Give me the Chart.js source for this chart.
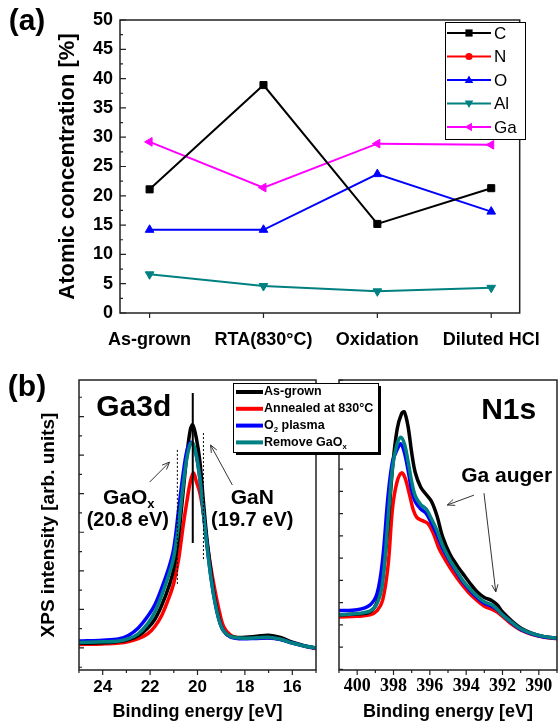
<!DOCTYPE html>
<html lang="en">
<head>
<meta charset="UTF-8">
<title>Surface composition and XPS spectra</title>
<script src="https://cdn.jsdelivr.net/npm/chart.js"></script>
<style>
  body { margin: 0; background: #fff; }
  #wrap { position: relative; width: 558px; height: 724px; }
  canvas { position: absolute; }
  #chartA { left: 0; top: 0; }
  #chartR { left: 328px; top: 360px; }
  #chartL { left: 0; top: 360px; z-index: 2; }
</style>
</head>
<body>
<div id="wrap">
  <canvas id="chartA" width="558" height="360"></canvas>
  <canvas id="chartR" width="230" height="364"></canvas>
  <canvas id="chartL" width="400" height="364"></canvas>
</div>
<script>
// ---- (a) atomic concentration [%] ----
const samples = ['As-grown', 'RTA(830°C)', 'Oxidation', 'Diluted HCl'];
const concC  = [21.1, 38.9, 15.2, 21.3];
const concN  = [null, null, null, null];   // not visible in the 0-50 % window
const concO  = [14.2, 14.2, 23.7, 17.3];
const concAl = [6.6, 4.6, 3.7, 4.3];
const concGa = [29.2, 21.4, 28.9, 28.7];

// ---- (b) Ga3d spectra [binding energy eV, intensity arb.] ----
const ga3dAsGrown = [[25.0, 9.2], [24.0, 9.4], [23.3, 9.8], [22.9, 10.5], [22.5, 11.8], [22.1, 14.5], [21.8, 17.5], [21.5, 22.5], [21.2, 29], [21.0, 35], [20.8, 46], [20.6, 62], [20.45, 74], [20.3, 83], [20.2, 84.5], [20.05, 80], [19.9, 72], [19.75, 58], [19.6, 45], [19.45, 35], [19.3, 26], [19.1, 18], [18.9, 13.5], [18.6, 11.5], [18.2, 11.2], [17.5, 11.6], [17.0, 12.0], [16.5, 11.2], [16.0, 9.6], [15.5, 8.4], [15.0, 7.6]];
const ga3dAnneal  = [[25.0, 8.8], [24.0, 9.0], [23.3, 9.3], [22.9, 9.8], [22.5, 10.8], [22.1, 12.5], [21.8, 15], [21.5, 19], [21.2, 25], [21.0, 30], [20.8, 38], [20.6, 50], [20.45, 58], [20.3, 65], [20.17, 68], [20.05, 65], [19.9, 61], [19.75, 54], [19.6, 44], [19.45, 36], [19.3, 29], [19.1, 21], [18.9, 15], [18.6, 12], [18.2, 11], [17.5, 11], [17.0, 11.1], [16.5, 10.6], [16.0, 9.4], [15.5, 8.3], [15.0, 7.4]];
const ga3dO2      = [[25.0, 10.0], [24.0, 10.3], [23.3, 10.8], [22.9, 12.0], [22.5, 14.5], [22.1, 18.5], [21.8, 22.5], [21.5, 28.5], [21.2, 35.5], [21.0, 42], [20.8, 55], [20.6, 68], [20.45, 75.5], [20.3, 78.5], [20.2, 78], [20.05, 74], [19.9, 66], [19.75, 54], [19.6, 43], [19.45, 33], [19.3, 25], [19.1, 17.5], [18.9, 13.5], [18.6, 11.3], [18.2, 10.8], [17.5, 10.9], [17.0, 11.0], [16.5, 10.5], [16.0, 9.3], [15.5, 8.3], [15.0, 7.5]];
const ga3dRemove  = [[25.0, 9.5], [24.0, 9.7], [23.3, 10.0], [22.9, 10.8], [22.5, 12.5], [22.1, 16], [21.8, 20], [21.5, 26], [21.2, 33], [21.0, 39], [20.8, 50], [20.6, 64], [20.45, 73], [20.3, 78], [20.2, 78.3], [20.05, 74], [19.9, 66], [19.75, 54], [19.6, 43], [19.45, 33], [19.3, 25], [19.1, 17.5], [18.9, 13.5], [18.6, 11.5], [18.2, 11], [17.5, 11.1], [17.0, 11.3], [16.5, 10.6], [16.0, 9.3], [15.5, 8.3], [15.0, 7.6]];
const ga3dPeakLine = [[20.2, 95.5], [20.2, 43.8]];
const ga3dGaOxLine = [[20.85, 75.9], [20.85, 29.3]];
const ga3dGaNLine  = [[19.75, 81.7], [19.75, 37.9]];

// ---- (b) N1s spectra ----
const n1sAsGrown = [[401.0, 19.0], [400.0, 19.3], [399.3, 20.0], [398.9, 23.5], [398.6, 32], [398.3, 50], [398.05, 70], [397.8, 83], [397.55, 88.5], [397.4, 89], [397.2, 84], [397.0, 75], [396.8, 68], [396.5, 63], [396.2, 60.5], [395.9, 58], [395.6, 53], [395.3, 46], [394.9, 40], [394.5, 36], [394.2, 33.4], [393.8, 30], [393.4, 27], [393.0, 25], [392.6, 24], [392.3, 22.5], [392.0, 20], [391.5, 17], [391.0, 14.5], [390.4, 12.7], [389.7, 11.5], [389.0, 11.0]];
const n1sAnneal  = [[401.0, 18.3], [400.0, 18.5], [399.3, 19.0], [398.9, 20.5], [398.6, 24], [398.3, 36], [398.05, 56], [397.8, 65], [397.55, 68], [397.35, 66], [397.1, 60], [396.9, 55], [396.7, 52.5], [396.4, 51.5], [396.1, 50.5], [395.8, 47], [395.5, 42], [395.1, 37.5], [394.7, 33.5], [394.3, 30], [393.9, 27], [393.5, 24.5], [393.0, 22], [392.6, 21], [392.3, 20], [392.0, 18.5], [391.5, 15.8], [391.0, 13.8], [390.4, 12.3], [389.7, 11.3], [389.0, 10.8]];
const n1sO2      = [[401.0, 20.5], [400.0, 20.8], [399.3, 22.4], [398.9, 26.5], [398.6, 38], [398.3, 60], [398.05, 72], [397.8, 76], [397.6, 78], [397.4, 75], [397.2, 69], [397.0, 62], [396.8, 58], [396.5, 55.5], [396.2, 54], [395.9, 50.5], [395.6, 46.5], [395.3, 42], [394.9, 37.5], [394.5, 33.5], [394.2, 30.5], [393.8, 27.5], [393.4, 25], [393.0, 23], [392.6, 22], [392.3, 20.8], [392.0, 19], [391.5, 16.3], [391.0, 14], [390.4, 12.5], [389.7, 11.4], [389.0, 11.0]];
const n1sRemove  = [[401.0, 19.0], [400.0, 19.5], [399.3, 20.3], [398.9, 23], [398.6, 30], [398.3, 52], [398.05, 70], [397.8, 78], [397.6, 80.3], [397.4, 78], [397.2, 72], [397.0, 65], [396.8, 60], [396.5, 57], [396.2, 55.5], [395.9, 52], [395.6, 48], [395.3, 43], [394.9, 38], [394.5, 34], [394.2, 31], [393.8, 28], [393.4, 25.5], [393.0, 23.5], [392.6, 22.5], [392.3, 21], [392.0, 19], [391.5, 16.5], [391.0, 14.2], [390.4, 12.6], [389.7, 11.5], [389.0, 11.0]];

const SANS = '"Liberation Sans", Arial, sans-serif';
Chart.defaults.font.family = SANS;
Chart.defaults.color = '#000';

const xy = arr => arr.map(p => ({ x: p[0], y: p[1] }));

// tick labels only on multiples of step (axis ends are odd numbers)
const evenTicks = step => s => {
  const t = [];
  for (let v = Math.ceil(s.min / step) * step; v <= s.max + 1e-9; v += step) t.push({ value: v });
  s.ticks = t;
};

function marker(ctx, style, rot, x, y, r, color) {
  ctx.save();
  ctx.translate(x, y);
  ctx.rotate((rot || 0) * Math.PI / 180);
  ctx.fillStyle = color;
  ctx.beginPath();
  if (style === 'rect') ctx.rect(-r * 0.8, -r * 0.8, r * 1.6, r * 1.6);
  else if (style === 'circle') ctx.arc(0, 0, r * 0.8, 0, 2 * Math.PI);
  else { ctx.moveTo(0, -r); ctx.lineTo(r * 0.95, r * 0.65); ctx.lineTo(-r * 0.95, r * 0.65); ctx.closePath(); }
  ctx.fill();
  ctx.restore();
}

// text with "_c" meaning subscript c
function richText(ctx, str, x, y, size, align) {
  const parts = [];
  for (let i = 0; i < str.length; i++) {
    if (str[i] === '_') { parts.push({ t: str[i + 1], sub: true }); i++; }
    else if (parts.length && !parts[parts.length - 1].sub) parts[parts.length - 1].t += str[i];
    else parts.push({ t: str[i], sub: false });
  }
  const fontFor = p => 'bold ' + (p.sub ? size * 0.62 : size) + 'px ' + SANS;
  let w = 0;
  parts.forEach(p => { ctx.font = fontFor(p); p.w = ctx.measureText(p.t).width; w += p.w; });
  let cx = align === 'center' ? x - w / 2 : x;
  ctx.textAlign = 'left';
  ctx.textBaseline = 'middle';
  parts.forEach(p => {
    ctx.font = fontFor(p);
    ctx.fillText(p.t, cx, p.sub ? y + size * 0.32 : y);
    cx += p.w;
  });
}

function arrow(ctx, x1, y1, x2, y2) {
  const ang = Math.atan2(y2 - y1, x2 - x1), h = 8;
  ctx.beginPath();
  ctx.moveTo(x1, y1); ctx.lineTo(x2, y2);
  ctx.moveTo(x2 - h * Math.cos(ang - 0.4), y2 - h * Math.sin(ang - 0.4));
  ctx.lineTo(x2, y2);
  ctx.lineTo(x2 - h * Math.cos(ang + 0.4), y2 - h * Math.sin(ang + 0.4));
  ctx.stroke();
}

// box round the plot plus small tick marks (x outward, y inward)
const framePlugin = {
  id: 'frame',
  afterDatasetsDraw(chart, args, o) {
    const { ctx, chartArea: a, scales: { x, y } } = chart;
    ctx.save();
    ctx.strokeStyle = '#222';
    ctx.lineWidth = 1.5;
    ctx.strokeRect(a.left, a.top, a.right - a.left, a.bottom - a.top);
    ctx.lineWidth = 1.2;
    ctx.beginPath();
    const run = (scale, t, draw) => {
      for (let k = -200; k <= 200; k++) {
        const v = t.start + k * t.step;
        if (v < scale.min - 1e-6 || v > scale.max + 1e-6) continue;
        const len = (((k % t.every) + t.every) % t.every === 0) ? t.major : t.minor;
        draw(scale.getPixelForValue(v), len);
      }
    };
    run(x, o.x, (px, len) => { ctx.moveTo(px, a.bottom); ctx.lineTo(px, a.bottom + len); });
    run(y, o.y, (py, len) => { ctx.moveTo(a.left, py); ctx.lineTo(a.left + len, py); });
    ctx.stroke();
    ctx.restore();
  }
};

// free texts and arrows, placed in data coordinates
const notesPlugin = {
  id: 'notes',
  afterDatasetsDraw(chart, args, o) {
    const { ctx, scales: { x, y } } = chart;
    ctx.save();
    ctx.fillStyle = '#000';
    ctx.strokeStyle = '#333';
    ctx.lineWidth = 1;
    (o.items || []).forEach(it => {
      if (it.arrow) {
        arrow(ctx, x.getPixelForValue(it.arrow[0]), y.getPixelForValue(it.arrow[1]),
                   x.getPixelForValue(it.arrow[2]), y.getPixelForValue(it.arrow[3]));
      } else {
        richText(ctx, it.text, x.getPixelForValue(it.at[0]), y.getPixelForValue(it.at[1]), it.size, 'center');
      }
    });
    if (o.tag) richText(ctx, o.tag.text, o.tag.x, o.tag.y, o.tag.size, 'center');
    ctx.restore();
  }
};

const legendA = {
  id: 'legendA',
  afterDraw(chart, args, o) {
    const ctx = chart.ctx;
    ctx.save();
    ctx.fillStyle = '#fff';
    ctx.fillRect(o.left, o.top, o.width, o.height);
    ctx.strokeStyle = '#000';
    ctx.lineWidth = 1;
    ctx.strokeRect(o.left + 0.5, o.top + 0.5, o.width, o.height);
    chart.data.datasets.forEach((ds, i) => {
      const cy = o.top + o.first + i * o.gap;
      ctx.strokeStyle = ds.borderColor;
      ctx.lineWidth = 2;
      ctx.beginPath();
      ctx.moveTo(o.left + 2, cy); ctx.lineTo(o.left + 46, cy);
      ctx.stroke();
      marker(ctx, ds.pointStyle, ds.pointRotation, o.left + 24, cy, 4.5, ds.borderColor);
      ctx.fillStyle = '#000';
      ctx.font = '17px ' + SANS;
      ctx.textAlign = 'left';
      ctx.textBaseline = 'middle';
      ctx.fillText(ds.label, o.left + 49, cy + 1);
    });
    ctx.restore();
  }
};

const legendB = {
  id: 'legendB',
  afterDraw(chart, args, o) {
    const ctx = chart.ctx;
    ctx.save();
    ctx.fillStyle = '#000';
    ctx.fillRect(o.left + 3, o.top + 3, o.width, o.height);
    ctx.fillStyle = '#fff';
    ctx.fillRect(o.left, o.top, o.width, o.height);
    ctx.strokeStyle = '#000';
    ctx.lineWidth = 1;
    ctx.strokeRect(o.left + 0.5, o.top + 0.5, o.width, o.height);
    chart.data.datasets.filter(ds => ds.label).forEach((ds, i) => {
      const cy = o.top + o.first + i * o.gap;
      ctx.strokeStyle = ds.borderColor;
      ctx.lineWidth = 4;
      ctx.beginPath();
      ctx.moveTo(o.left + 3, cy); ctx.lineTo(o.left + 30, cy);
      ctx.stroke();
      ctx.fillStyle = '#000';
      richText(ctx, ds.label, o.left + 31, cy, 12.5, 'left');
    });
    ctx.restore();
  }
};

function conc(label, values, color, style, rot) {
  return {
    label: label, data: values.map((v, i) => ({ x: i, y: v })),
    borderColor: color, backgroundColor: color, borderWidth: 2,
    pointStyle: style, pointRotation: rot, pointRadius: 5, pointBorderWidth: 1,
    tension: 0, spanGaps: false
  };
}

function spectrum(label, arr, color, order) {
  return {
    label: label, data: xy(arr), borderColor: color, borderWidth: 3.5,
    pointRadius: 0, tension: 0.35, order: order
  };
}

function refLine(arr, dash, width) {
  return {
    data: xy(arr), borderColor: '#000', borderWidth: width, borderDash: dash,
    pointRadius: 0, order: -1
  };
}

const noGrid = { display: false, drawTicks: false };

// ---------- (a) ----------
new Chart(document.getElementById('chartA'), {
  type: 'line',
  data: {
    datasets: [
      conc('C', concC, '#000000', 'rect', 0),
      conc('N', concN, '#ff0000', 'circle', 0),
      conc('O', concO, '#0000ff', 'triangle', 0),
      conc('Al', concAl, '#008080', 'triangle', 180),
      conc('Ga', concGa, '#ff00ff', 'triangle', -90)
    ]
  },
  options: {
    responsive: false,
    animation: false,
    layout: { padding: { left: 0, right: 32, top: 20, bottom: 0 } },
    scales: {
      x: {
        type: 'linear', min: -0.26, max: 3.25,
        afterFit: s => { s.height = 47; },
        grid: noGrid, border: { display: false },
        ticks: {
          stepSize: 1, includeBounds: false, autoSkip: false, maxRotation: 0, padding: 16,
          font: { size: 18, weight: 'bold' },
          callback: v => samples[v] ?? ''
        }
      },
      y: {
        min: 0, max: 50,
        afterFit: s => { s.width = 120; },
        grid: noGrid, border: { display: false },
        ticks: { stepSize: 5, padding: 7, font: { size: 18, weight: 'bold' } },
        title: {
          display: true, text: 'Atomic concentration [%]',
          font: { size: 22, weight: 'bold' }, padding: { top: 55, bottom: 0 }
        }
      }
    },
    plugins: {
      legend: { display: false },
      tooltip: { enabled: false },
      frame: { x: { start: 0, step: 1, every: 1, major: 5, minor: 5 },
               y: { start: 0, step: 2.5, every: 2, major: 6, minor: 3 } },
      legendA: { left: 445, top: 22, width: 80, height: 117, first: 11, gap: 23.5 },
      notes: { tag: { text: '(a)', x: 27, y: 22, size: 30 } }
    }
  },
  plugins: [framePlugin, notesPlugin, legendA]
});

// ---------- (b) right: N1s ----------
new Chart(document.getElementById('chartR'), {
  type: 'line',
  data: {
    datasets: [
      spectrum('As-grown', n1sAsGrown, '#000000', 2),
      spectrum('Annealed at 830°C', n1sAnneal, '#ff0000', 3),
      spectrum('O_2 plasma', n1sO2, '#0000ff', 1),
      spectrum('Remove GaO_x', n1sRemove, '#008080', 0)
    ]
  },
  options: {
    responsive: false,
    animation: false,
    layout: { padding: { left: 0, right: 1, top: 20, bottom: 0 } },
    scales: {
      x: {
        type: 'linear', min: 389, max: 401, reverse: true,
        afterFit: s => { s.height = 54; },
        afterBuildTicks: evenTicks(2),
        grid: noGrid, border: { display: false },
        ticks: { maxRotation: 0, autoSkip: false, padding: 6,
                 font: { family: '"Liberation Serif", "Times New Roman", serif', size: 18, weight: 'bold' } },
        title: { display: true, text: 'Binding energy [eV]', font: { size: 18, weight: 'bold' },
                 padding: { top: 0, bottom: 1 } }
      },
      y: {
        min: 0, max: 100,
        afterFit: s => { s.width = 11; },
        grid: noGrid, border: { display: false },
        ticks: { display: false }
      }
    },
    plugins: {
      legend: { display: false },
      tooltip: { enabled: false },
      frame: { x: { start: 390, step: 1, every: 2, major: 5, minor: 3 },
               y: { start: 7.9, step: 7.67, every: 1, major: 4, minor: 4 } },
      notes: {
        items: [
          { text: 'N1s', at: [391.66, 89.3], size: 30 },
          { text: 'Ga auger', at: [391.77, 66.9], size: 21 },
          { arrow: [393.57, 60.3, 395.04, 56.9] },
          { arrow: [393.02, 61.0, 392.37, 26.9] }
        ]
      }
    }
  },
  plugins: [framePlugin, notesPlugin]
});

// ---------- (b) left: Ga3d (also carries the shared legend) ----------
new Chart(document.getElementById('chartL'), {
  type: 'line',
  data: {
    datasets: [
      spectrum('As-grown', ga3dAsGrown, '#000000', 2),
      spectrum('Annealed at 830°C', ga3dAnneal, '#ff0000', 3),
      spectrum('O_2 plasma', ga3dO2, '#0000ff', 1),
      spectrum('Remove GaO_x', ga3dRemove, '#008080', 0),
      refLine(ga3dPeakLine, [], 2),
      refLine(ga3dGaOxLine, [2, 2], 1),
      refLine(ga3dGaNLine, [2, 2], 1)
    ]
  },
  options: {
    responsive: false,
    animation: false,
    layout: { padding: { left: 0, right: 84, top: 20, bottom: 0 } },
    scales: {
      x: {
        type: 'linear', min: 15, max: 25, reverse: true,
        afterFit: s => { s.height = 54; },
        afterBuildTicks: evenTicks(2),
        grid: noGrid, border: { display: false },
        ticks: { maxRotation: 0, autoSkip: false, padding: 7,
                 font: { size: 17, weight: 'bold' } },
        title: { display: true, text: 'Binding energy [eV]', font: { size: 18, weight: 'bold' },
                 padding: { top: 0, bottom: 1 } }
      },
      y: {
        min: 0, max: 100,
        afterFit: s => { s.width = 79; },
        grid: noGrid, border: { display: false },
        ticks: { display: false },
        title: { display: true, text: 'XPS intensity [arb. units]', font: { size: 19, weight: 'bold' },
                 padding: { top: 37, bottom: 0 } }
      }
    },
    plugins: {
      legend: { display: false },
      tooltip: { enabled: false },
      frame: { x: { start: 16, step: 1, every: 2, major: 5, minor: 3 },
               y: { start: 7.6, step: 6.65, every: 2, major: 5, minor: 3 } },
      notes: {
        tag: { text: '(b)', x: 27, y: 28, size: 30 },
        items: [
          { text: 'Ga3d', at: [22.69, 90.3], size: 30 },
          { text: 'GaO_x', at: [22.9, 59.3], size: 21 },
          { text: '(20.8 eV)', at: [22.94, 51.4], size: 20 },
          { text: 'GaN', at: [17.69, 59.3], size: 21 },
          { text: '(19.7 eV)', at: [17.69, 51.4], size: 20 },
          { arrow: [22.02, 64.8, 21.18, 71.7] },
          { arrow: [18.53, 63.8, 19.45, 77.6] }
        ]
      },
      legendB: { left: 233, top: 23, width: 145, height: 69, first: 9, gap: 16.8 }
    }
  },
  plugins: [framePlugin, notesPlugin, legendB]
});
</script>
</body>
</html>
